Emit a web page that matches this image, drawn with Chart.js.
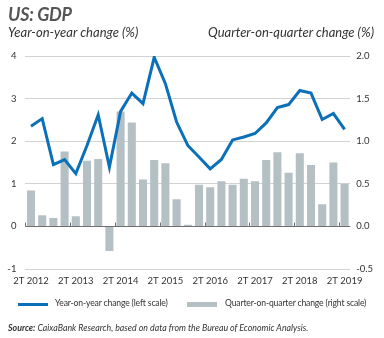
<!DOCTYPE html>
<html>
<head>
<meta charset="utf-8">
<script src="https://cdn.jsdelivr.net/npm/chart.js@4/dist/chart.umd.min.js"></script>
<style>
  html, body { margin: 0; padding: 0; background: #fff; }
  #wrap { position: relative; width: 384px; height: 338px; font-family: Lato, "Open Sans", sans-serif; color: #333; }
  #chart { position: absolute; left: 0; top: 0; }
  .txt { position: absolute; white-space: nowrap; font-style: italic; }
  #title { left: 8px; top: 3px; font-size: 18px; font-weight: bold; color: #555; letter-spacing: -0.3px; }
  #subL { left: 8px; top: 24px; font-size: 13px; }
  #subR { right: 10px; top: 24px; font-size: 13px; }
  .leg { position: absolute; top: 298px; font-size: 8.6px; letter-spacing: -0.15px; white-space: nowrap; }
  .sw { position: absolute; top: 304px; width: 30px; }
  #source { left: 8px; top: 322px; font-size: 8.8px; }
</style>
</head>
<body>
<div id="wrap">
  <canvas id="chart" width="384" height="338"></canvas>
  <div class="txt" id="title">US: GDP</div>
  <div class="txt" id="subL">Year-on-year change (%)</div>
  <div class="txt" id="subR">Quarter-on-quarter change (%)</div>
  <div class="sw" style="left:18px; height:3px; margin-top:-1px; background:#0a70b8;"></div>
  <div class="leg" style="left:55px;">Year-on-year change (left scale)</div>
  <div class="sw" style="left:187px; height:5px; margin-top:-2px; background:#b4c0c4;"></div>
  <div class="leg" style="left:225px;">Quarter-on-quarter change (right scale)</div>
  <div class="txt" id="source"><b>Source:</b> CaixaBank Research, based on data from the Bureau of Economic Analysis.</div>
</div>
<script>
// quarterly categories, 2T 2012 .. 2T 2019
var quarters = [
  "2T 2012", "3T 2012", "4T 2012",
  "1T 2013", "2T 2013", "3T 2013", "4T 2013",
  "1T 2014", "2T 2014", "3T 2014", "4T 2014",
  "1T 2015", "2T 2015", "3T 2015", "4T 2015",
  "1T 2016", "2T 2016", "3T 2016", "4T 2016",
  "1T 2017", "2T 2017", "3T 2017", "4T 2017",
  "1T 2018", "2T 2018", "3T 2018", "4T 2018",
  "1T 2019", "2T 2019"
];
// year-on-year change, left scale (%)
var yoyChange = [2.35, 2.53, 1.45, 1.57, 1.24, 1.90, 2.62, 1.39, 2.70, 3.13, 2.88, 3.97, 3.35, 2.45, 1.90,
  1.63, 1.35, 1.57, 2.03, 2.10, 2.18, 2.43, 2.79, 2.86, 3.19, 3.13, 2.51, 2.65, 2.28];
// quarter-on-quarter change, right scale (%)
var qoqChange = [0.42, 0.13, 0.10, 0.88, 0.12, 0.77, 0.79, -0.29, 1.35, 1.22, 0.55, 0.78, 0.74, 0.32, 0.02,
  0.49, 0.46, 0.53, 0.49, 0.56, 0.53, 0.78, 0.87, 0.63, 0.86, 0.72, 0.26, 0.75, 0.50];
var leftTicks = [-1, 0, 1, 2, 3, 4];
var rightTicks = [-0.5, 0, 0.5, 1, 1.5, 2];

// zero axis line with small year ticks, drawn over the bars
var zeroAxis = {
  id: "zeroAxis",
  afterDatasetsDraw: function (chart) {
    var ctx = chart.ctx, x = chart.scales.x, y = chart.scales.y;
    var y0 = Math.round(y.getPixelForValue(0)) + 0.5;
    var half = (x.getPixelForValue(1) - x.getPixelForValue(0)) / 2;
    ctx.save();
    ctx.strokeStyle = "#6f6f6f";
    ctx.lineWidth = 1;
    ctx.beginPath();
    ctx.moveTo(chart.chartArea.left, y0);
    ctx.lineTo(chart.chartArea.right, y0);
    quarters.forEach(function (q, i) {
      if (q.indexOf("2T") !== 0) return;
      var px = Math.round(x.getPixelForValue(i) - half) + 0.5;
      ctx.moveTo(px, y0);
      ctx.lineTo(px, y0 - 4);
    });
    ctx.stroke();
    ctx.restore();
  }
};

var tickFont = { family: "Lato, 'Open Sans', sans-serif", size: 9.5 };

new Chart(document.getElementById("chart"), {
  data: {
    labels: quarters,
    datasets: [
      {
        type: "line",
        label: "Year-on-year change (left scale)",
        data: yoyChange,
        yAxisID: "y",
        borderColor: "#0a70b8",
        borderWidth: 3,
        pointRadius: 0,
        tension: 0,
        order: 0
      },
      {
        type: "bar",
        label: "Quarter-on-quarter change (right scale)",
        data: qoqChange,
        yAxisID: "y2",
        backgroundColor: "#b4c0c4",
        barPercentage: 0.72,
        categoryPercentage: 1,
        order: 1
      }
    ]
  },
  options: {
    responsive: false,
    animation: false,
    layout: { padding: { top: 56, left: 0, right: 0, bottom: 0 } },
    plugins: { legend: { display: false }, tooltip: { enabled: false } },
    scales: {
      x: {
        offset: true,
        grid: { display: false, drawTicks: false },
        border: { display: false },
        ticks: {
          autoSkip: false, maxRotation: 0, padding: 6, color: "#333", font: tickFont,
          callback: function (v, i) { return quarters[i].indexOf("2T") === 0 ? quarters[i] : ""; }
        },
        afterFit: function (s) { s.height = 69; }
      },
      y: {
        position: "left",
        min: -1, max: 4,
        afterBuildTicks: function (s) { s.ticks = leftTicks.map(function (v) { return { value: v }; }); },
        grid: {
          drawTicks: false,
          color: function (c) { return c.tick && c.tick.value === 0 ? "rgba(0,0,0,0)" : "#d2d2d2"; }
        },
        border: { display: false },
        ticks: { padding: 9, color: "#333", font: tickFont },
        afterFit: function (s) { s.width = 25.4; }
      },
      y2: {
        position: "right",
        min: -0.5, max: 2,
        afterBuildTicks: function (s) { s.ticks = rightTicks.map(function (v) { return { value: v }; }); },
        grid: { display: false, drawTicks: false },
        border: { display: false },
        ticks: {
          padding: 6, color: "#333", font: tickFont,
          callback: function (v) { return Number(v).toFixed(1); }
        },
        afterFit: function (s) { s.width = 33.8; }
      }
    }
  },
  plugins: [zeroAxis]
});
</script>
</body>
</html>
